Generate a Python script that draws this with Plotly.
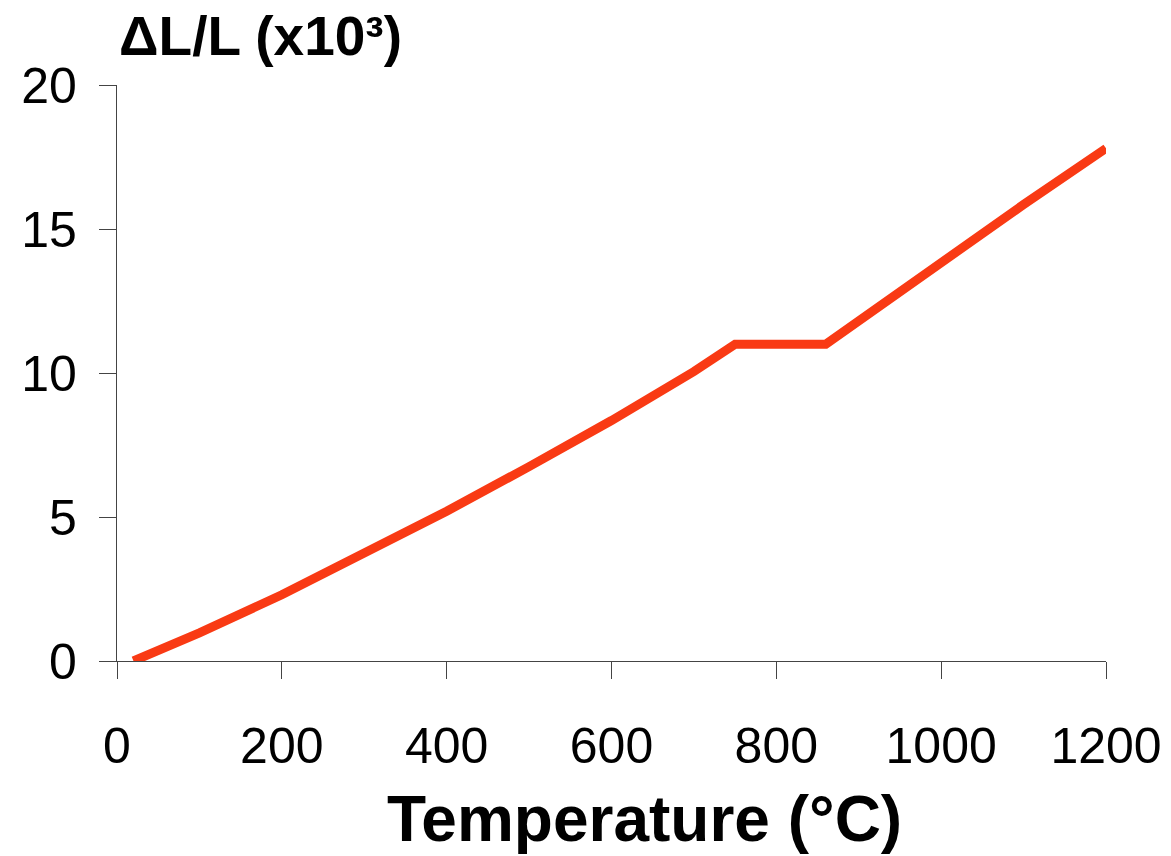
import plotly.graph_objects as go

temperature = [20, 100, 200, 300, 400, 500, 600, 700, 750, 860, 1000, 1100, 1200]
strain = [0.0, 0.98, 2.3, 3.72, 5.2, 6.75, 8.35, 10.05, 11.0, 11.0, 13.85, 15.85, 17.8]

x_ticks = [0, 200, 400, 600, 800, 1000, 1200]
y_ticks = [0, 5, 10, 15, 20]

fig = go.Figure()
fig.add_trace(go.Scatter(x=temperature, y=strain, mode="lines",
                         line=dict(color="#F93A14", width=9), showlegend=False))

axis_common = dict(showgrid=False, zeroline=False, showline=True, linecolor="#444",
                   linewidth=1.2, ticks="outside", ticklen=17, tickcolor="#444",
                   automargin=False,
                   tickfont=dict(family="Liberation Sans, Arial", size=50, color="black"))
fig.update_xaxes(range=[0, 1200], tickvals=x_ticks, ticklabelstandoff=24, **axis_common)
fig.update_yaxes(range=[0, 20], tickvals=y_ticks, ticklabelstandoff=12, **axis_common)

fig.add_annotation(text="<b>ΔL/L (x10³)</b>", xref="paper", yref="paper",
                   x=0.0, y=1.0, xanchor="left", yanchor="bottom", yshift=16, xshift=0,
                   showarrow=False,
                   font=dict(family="Liberation Sans, Arial", size=55, color="black"))
fig.add_annotation(text="<b>Temperature (°C)</b>", xref="paper", yref="paper",
                   x=0.533, y=0, xanchor="center", yanchor="top", yshift=-120, showarrow=False,
                   font=dict(family="Liberation Sans, Arial", size=64, color="black"))

fig.update_layout(width=1163, height=848, plot_bgcolor="white", paper_bgcolor="white",
                  margin=dict(l=109, r=65, t=77, b=195))
fig.write_html("out.html")
